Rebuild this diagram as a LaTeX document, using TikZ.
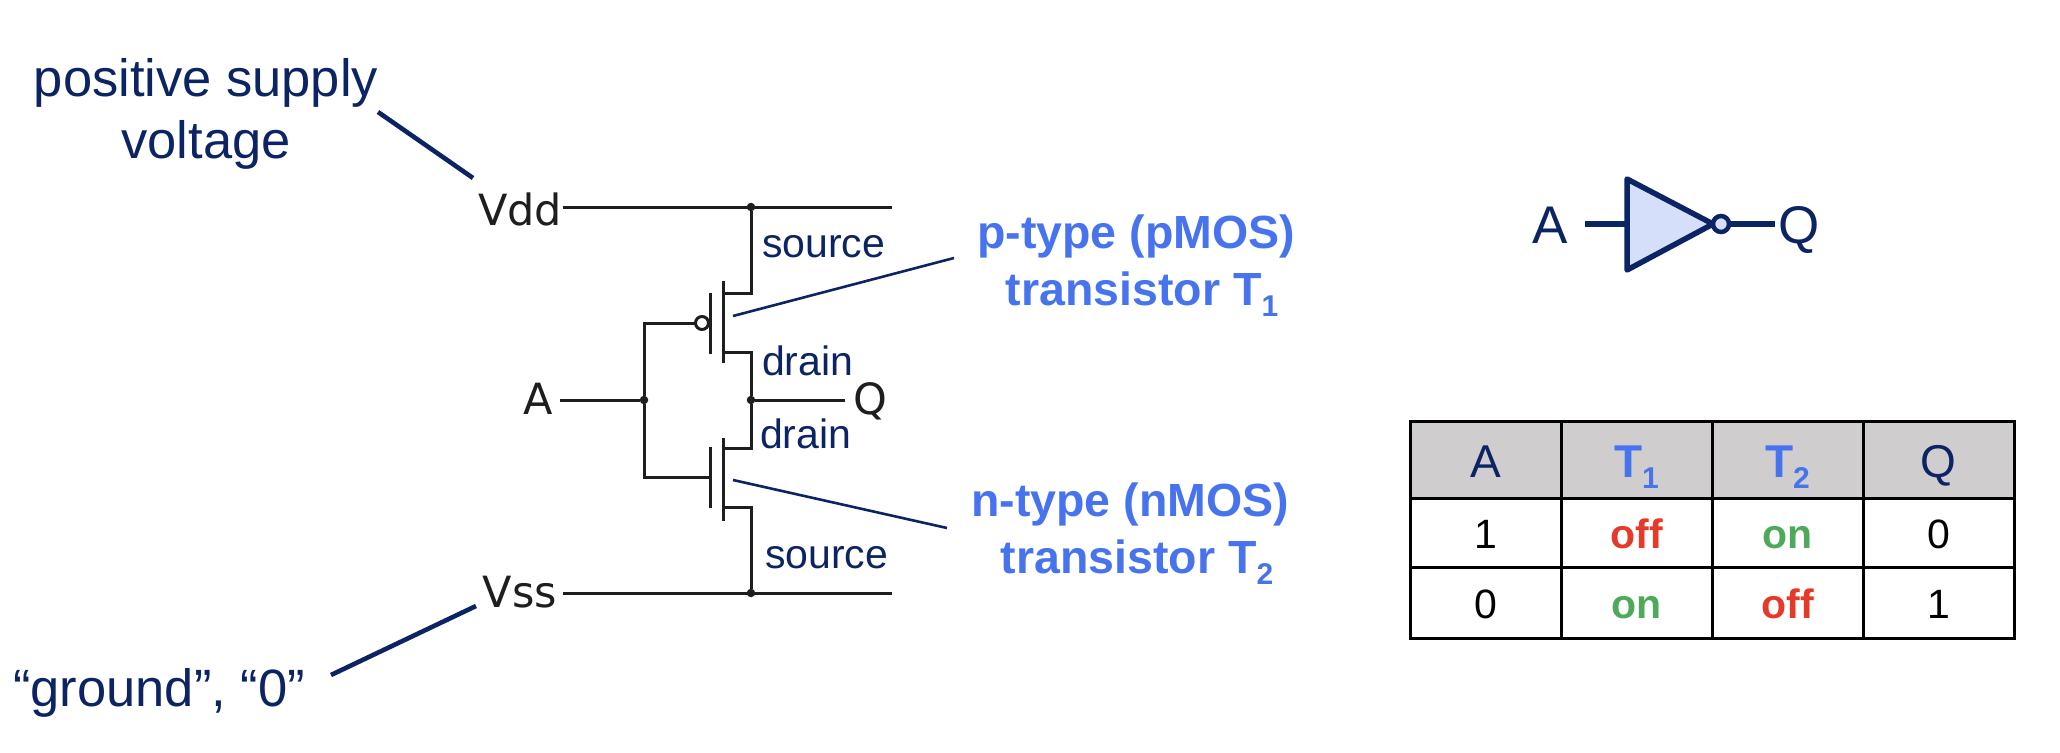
\documentclass[tikz,border=0pt]{standalone}
\usepackage{fontspec}
\setmainfont{Liberation Sans}
\newfontfamily\circuitfont{DejaVu Sans}
\usetikzlibrary{positioning}
\definecolor{navy}{HTML}{0C2463}
\definecolor{callblue}{HTML}{4773EE}
\definecolor{offred}{HTML}{E53A29}
\definecolor{ongreen}{HTML}{4FA95B}
\definecolor{wirecol}{HTML}{1E1E1E}
\definecolor{headgray}{HTML}{CFCDCE}
\definecolor{invfill}{HTML}{D5DFFA}
\newcommand{\tsub}[1]{\raisebox{-11pt}{\fontsize{30}{30}\selectfont #1}}

\begin{document}
\begin{tikzpicture}[x=1pt, y=-1pt,
    every node/.style={inner sep=0pt, outer sep=0pt},
    wire/.style={draw=wirecol, line width=3pt},
    dot/.style={circle, fill=wirecol, minimum size=8.5pt},
    pinlabel/.style={anchor=base, text=wirecol, font=\circuitfont\fontsize{43}{50}\selectfont},
    termlabel/.style={anchor=base west, text=navy, font=\fontsize{41}{46}\selectfont},
    biglabel/.style={anchor=base, text=navy, font=\fontsize{52.5}{62}\selectfont},
    typelabel/.style={anchor=base, text=callblue, font=\bfseries\fontsize{46.5}{54}\selectfont},
    leader/.style={draw=navy, line width=2.6pt},
    bigleader/.style={draw=navy, line width=4.6pt},
    invline/.style={draw=navy, line width=5.5pt, line join=round},
    cell/.style={draw=black, line width=3pt, minimum width=151pt, minimum height=#1pt,
        text height=31pt, text depth=0pt, font=\fontsize{41}{48}\selectfont},
    cell/.default=70,
    head/.style={cell=77, fill=headgray, text=navy, text height=35pt, font=\fontsize{46}{50}\selectfont},
    offc/.style={cell=#1, text=offred, font=\bfseries\fontsize{41}{48}\selectfont},
    onc/.style={cell=#1, text=ongreen, font=\bfseries\fontsize{41}{48}\selectfont}
    ]
\useasboundingbox (0,0) rectangle (2060,752);
% \draw[help lines, step=100] (0,0) grid (2060,752);

% outer labels
\node[biglabel] (supply1) at (206,96) {positive supply};
\node[biglabel] (supply2) at (206,158) {voltage};
\node[biglabel] (ground) at (159,706) {“ground”, “0”};
\node[pinlabel] (vdd) at (520,225) {Vdd};
\node[pinlabel] (vss) at (520,607) {Vss};
\node[pinlabel] (a) at (538,414) {A};
\node[pinlabel] (q) at (870,414) {Q};
\coordinate (supplyend) at (378,112);
\coordinate (vddend) at (473,178);
\coordinate (groundend) at (331,675);
\coordinate (vssend) at (476,606);
\path[bigleader] (supplyend) -- (vddend);
\path[bigleader] (groundend) -- (vssend);

% rails and junctions
\coordinate (vddl) at (563,207);
\coordinate (vddr) at (892,207);
\coordinate (vssl) at (563,593);
\coordinate (vssr) at (892,593);
\coordinate (al) at (560,400);
\coordinate (qr) at (845,400);
\node[dot] (jvdd) at (751,207) {};
\node[dot] (jvss) at (751,593) {};
\node[dot] (jq) at (751,400) {};
\node[dot] (ja) at (644,400) {};
\path[wire] (vddl) -- (vddr);
\path[wire] (vssl) -- (vssr);
\path[wire] (al) -- (ja);
\path[wire] (jq) -- (qr);

% pMOS
\coordinate (ps) at (723,293);
\coordinate (pd) at (723,352);
\coordinate (pct) at (723,281);
\coordinate (pcb) at (723,363);
\coordinate (pgt) at (710,293);
\coordinate (pgb) at (710,354);
\coordinate (pw) at (644,323);
\node[circle, draw=wirecol, line width=3pt, fill=white, minimum size=13pt] (bub) at (702,323) {};
\path[wire] (pct) -- (pcb);
\path[wire] (pgt) -- (pgb);
\path[wire] (jvdd) |- (ps);
\path[wire] (jq) |- (pd);
\path[wire] (ja) -- (pw) -- (bub);

% nMOS
\coordinate (nd) at (723,448);
\coordinate (ns) at (723,507);
\coordinate (nct) at (723,438);
\coordinate (ncb) at (723,521);
\coordinate (ngt) at (710,447);
\coordinate (ngb) at (710,508);
\coordinate (ng) at (710,477);
\coordinate (nw) at (644,477);
\path[wire] (nct) -- (ncb);
\path[wire] (ngt) -- (ngb);
\path[wire] (jq) |- (nd);
\path[wire] (jvss) |- (ns);
\path[wire] (ja) -- (nw) -- (ng);

\node[termlabel] (src1) at (762,257) {source};
\node[termlabel] (drn1) at (762,375) {drain};
\node[termlabel] (drn2) at (760,448) {drain};
\node[termlabel] (src2) at (765,568) {source};

% callouts
\node[typelabel] (ptype) at (1136,248) {p-type (pMOS)};
\node[typelabel] (t1) at (1142,305) {transistor T\tsub{1}};
\node[typelabel] (ntype) at (1130,516) {n-type (nMOS)};
\node[typelabel] (t2) at (1137,573) {transistor T\tsub{2}};
\coordinate (pfrom) at (733,316);
\coordinate (pto) at (954,258);
\coordinate (nfrom) at (733,480);
\coordinate (nto) at (947,528);
\path[leader] (pfrom) -- (pto);
\path[leader] (nfrom) -- (nto);

% inverter symbol
\node[anchor=base, text=navy, font=\fontsize{53}{60}\selectfont] (inva) at (1550,243) {A};
\node[anchor=base, text=navy, font=\fontsize{53}{60}\selectfont] (invq) at (1799,243) {Q};
\coordinate (trit) at (1627,179);
\coordinate (trib) at (1627,270);
\coordinate (trip) at (1713,224);
\coordinate (trim) at (1627,224);
\coordinate (inl) at (1585,224);
\coordinate (inr) at (1775,224);
\path[invline, fill=invfill] (trit) -- (trip) -- (trib) -- cycle;
\node[circle, draw=navy, line width=4.5pt, fill=invfill, minimum size=16pt] (invbub) at (1721,224) {};
\path[invline] (inl) -- (trim);
\path[invline] (invbub) -- (inr);

% table
\node[head] (h1) at (1485.5,459.5) {A};
\node[head, right=0pt of h1, text=callblue] (h2) {\bfseries T\tsub{1}};
\node[head, right=0pt of h2, text=callblue] (h3) {\bfseries T\tsub{2}};
\node[head, right=0pt of h3] (h4) {Q};
\node[cell=69, below=0pt of h1] (r11) {1};
\node[offc=69, below=0pt of h2] (r12) {off};
\node[onc=69, below=0pt of h3] (r13) {on};
\node[cell=69, below=0pt of h4] (r14) {0};
\node[cell=71, below=0pt of r11] (r21) {0};
\node[onc=71, below=0pt of r12] (r22) {on};
\node[offc=71, below=0pt of r13] (r23) {off};
\node[cell=71, below=0pt of r14] (r24) {1};
\end{tikzpicture}
\end{document}
